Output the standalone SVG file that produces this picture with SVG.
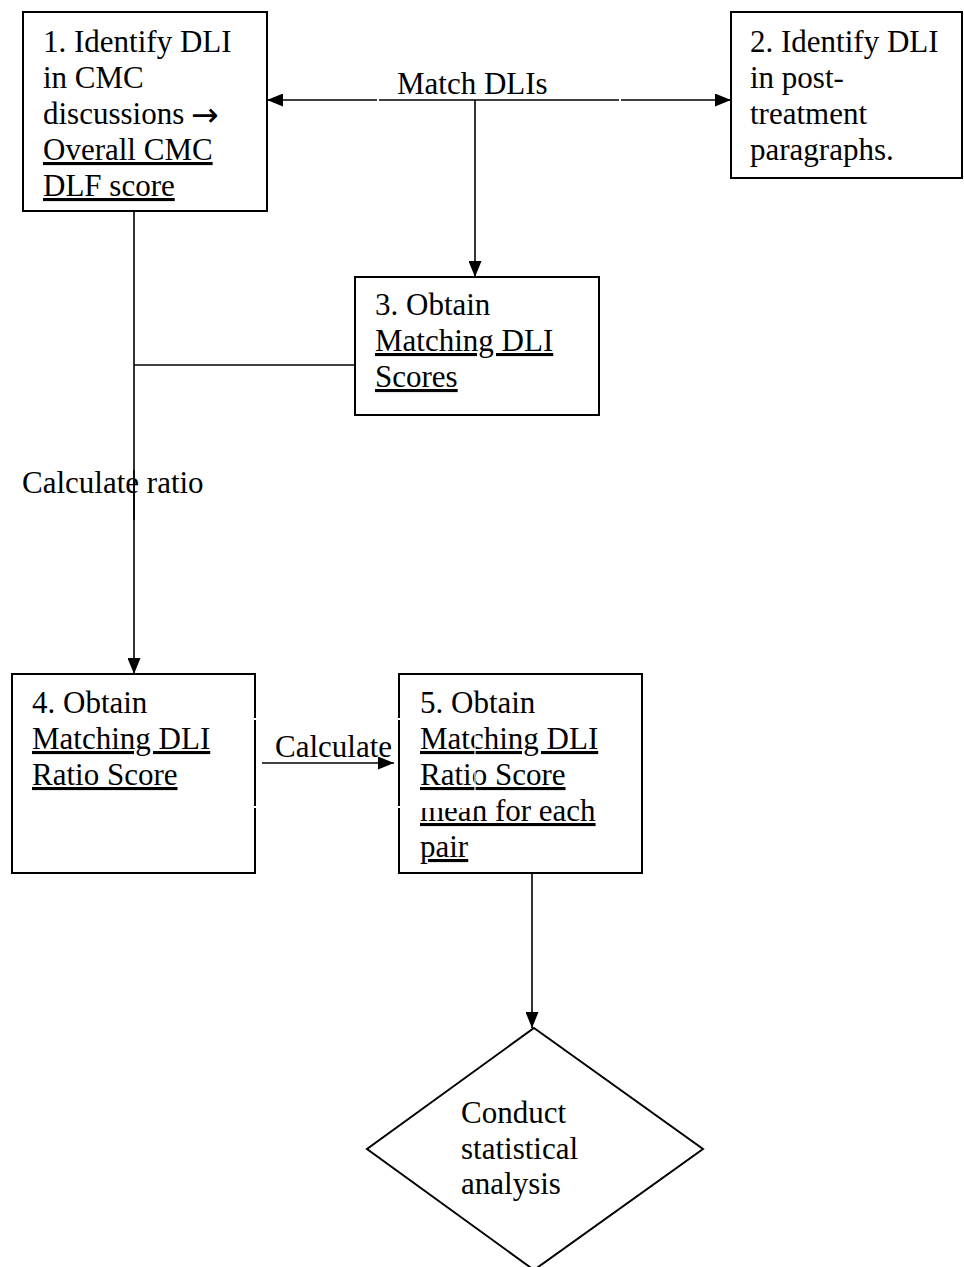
<svg xmlns="http://www.w3.org/2000/svg" width="964" height="1267" viewBox="0 0 964 1267">
<style>
  .box{fill:#fff;stroke:#000;stroke-width:2}
  .ln{fill:none;stroke:#000;stroke-width:1.6}
  text{font-family:"Liberation Serif","Times New Roman",serif;font-size:31px;fill:#000}
  .u{text-decoration:underline}
  .sym{font-family:"DejaVu Sans",sans-serif;font-size:33px}
  .gap{stroke:#fff;stroke-width:2;fill:none}
</style>
<defs>
  <marker id="ah" viewBox="0 0 16 13" refX="16" refY="6.5" markerWidth="16" markerHeight="13" markerUnits="userSpaceOnUse" orient="auto-start-reverse">
    <path d="M0,0 L16,6.5 L0,13 Z" fill="#000"/>
  </marker>
</defs>
<rect width="964" height="1267" fill="#fff"/>

<g id="node1">
  <rect class="box" x="23" y="12" width="244" height="199"/>
  <text x="43" y="52">1. Identify DLI</text>
  <text x="43" y="88">in CMC</text>
  <text x="43" y="124">discussions</text>
  <text class="sym" x="191" y="126">→</text>
  <text x="43" y="160" class="u">Overall CMC</text>
  <text x="43" y="196" class="u">DLF score</text>
</g>

<g id="node2">
  <rect class="box" x="731" y="12" width="231" height="166"/>
  <text x="750" y="52">2. Identify DLI</text>
  <text x="750" y="88">in post-</text>
  <text x="750" y="124">treatment</text>
  <text x="750" y="160">paragraphs.</text>
</g>

<g id="node3">
  <rect class="box" x="355" y="277" width="244" height="138"/>
  <text x="375" y="315">3. Obtain</text>
  <text x="375" y="351" class="u">Matching DLI</text>
  <text x="375" y="387" class="u">Scores</text>
</g>

<g id="node4">
  <rect class="box" x="12" y="674" width="243" height="199"/>
  <text x="32" y="713">4. Obtain</text>
  <text x="32" y="749" class="u">Matching DLI</text>
  <text x="32" y="785" class="u">Ratio Score</text>
</g>

<g id="node5">
  <rect class="box" x="399" y="674" width="243" height="199"/>
  <text x="420" y="713">5. Obtain</text>
  <text x="420" y="749" class="u">Matching DLI</text>
  <text x="420" y="785" class="u">Ratio Score</text>
  <text x="420" y="821" class="u">mean for each</text>
  <text x="420" y="857" class="u">pair</text>
</g>

<g id="node6">
  <polygon class="box" points="534,1028 703,1149 534,1270 367,1149"/>
  <text x="461" y="1123">Conduct</text>
  <text x="461" y="1159">statistical</text>
  <text x="461" y="1194">analysis</text>
</g>

<g id="connectors">
  <line class="ln" x1="267" y1="100" x2="731" y2="100" marker-start="url(#ah)" marker-end="url(#ah)"/>
  <line class="gap" x1="377" y1="100" x2="379" y2="100"/>
  <line class="gap" x1="619" y1="100" x2="621" y2="100"/>
  <text x="397" y="94">Match DLIs</text>
  <line class="ln" x1="475" y1="100" x2="475" y2="277" marker-end="url(#ah)"/>
  <line class="ln" x1="134" y1="211" x2="134" y2="674" marker-end="url(#ah)"/>
  <line class="ln" x1="134" y1="365" x2="355" y2="365"/>
  <text x="22" y="493">Calculate ratio</text>
  <line class="ln" x1="134" y1="470" x2="134" y2="520"/>
  <line class="ln" x1="262" y1="763" x2="394" y2="763" marker-end="url(#ah)"/>
  <text x="275" y="757">Calculate</text>
  <line class="ln" x1="532" y1="873" x2="532" y2="1028" marker-end="url(#ah)"/>
  <line class="gap" x1="255" y1="718" x2="255" y2="720"/>
  <line class="gap" x1="255" y1="806" x2="255" y2="808"/>
  <line class="gap" x1="399" y1="718" x2="399" y2="720"/>
  <line class="gap" x1="399" y1="806" x2="399" y2="808"/>
  <line stroke="#fff" stroke-width="1.2" x1="475" y1="719" x2="475" y2="807"/>
  <line stroke="#fff" stroke-width="2" x1="400" y1="807" x2="475" y2="807"/>
</g>
</svg>
